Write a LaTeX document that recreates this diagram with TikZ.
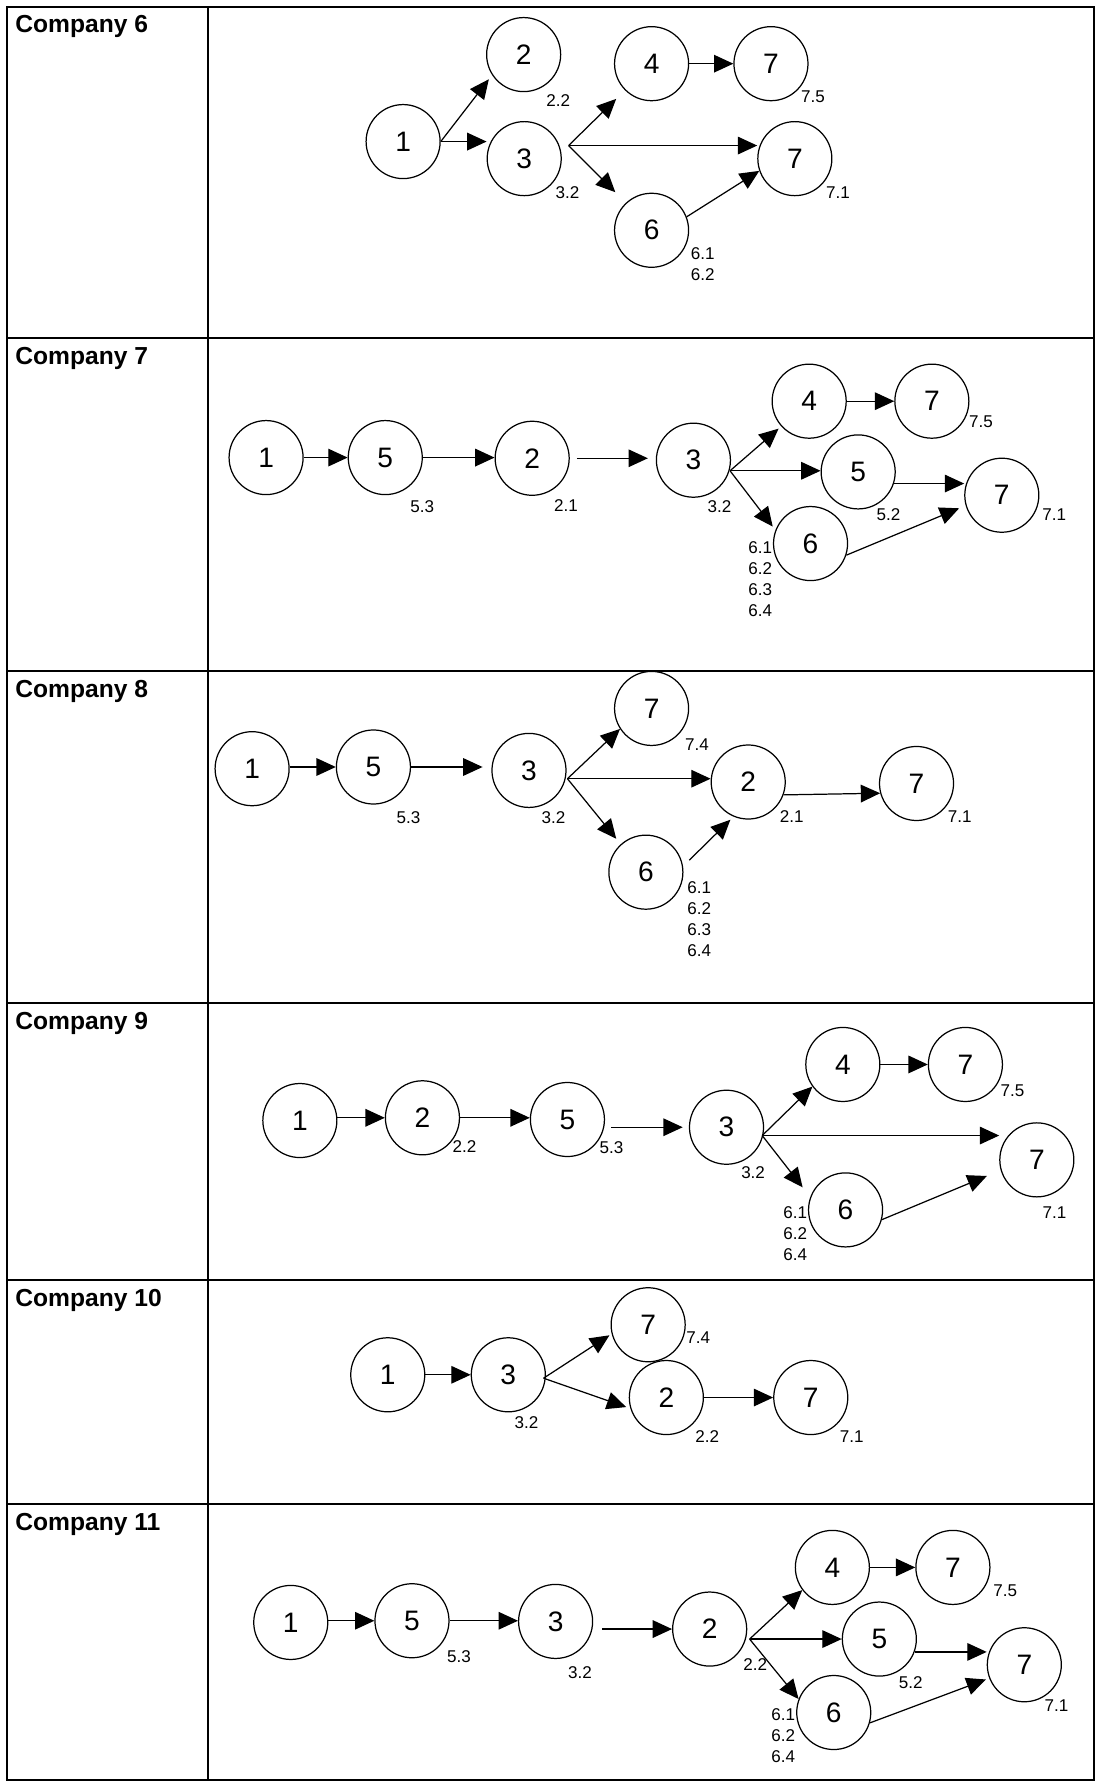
\documentclass[tikz,border=0pt]{standalone}
\usepackage{fontspec}
\setmainfont{Liberation Sans}
\usetikzlibrary{calc}
\usetikzlibrary{arrows.meta}
\tikzset{
  activity/.style = {circle, draw, line width=0.7pt, minimum size=1.48cm, inner sep=0pt, font=\fontsize{16}{18}\selectfont},
  flow/.style = {line width=0.7pt, -{Triangle[length=11pt,width=10pt]}},
  sublabel/.style = {inner sep=0pt, align=left, font=\fontsize{9.7}{12}\selectfont},
  company/.style = {anchor=base west, inner sep=0pt, font=\fontsize{14}{16}\selectfont\bfseries},
  cell/.style = {line width=1.1pt}
}

\begin{document}
\begin{tikzpicture}[x=0.22733mm, y=-0.22733mm]

    \useasboundingbox (0,0) rectangle (966,1568);

    % Table
    \draw[cell] (5.9,5.9) rectangle (962.3,1565);
    \draw[cell] (183.3,5.9) -- (183.3,1565);
    \foreach \y in {297.3,590.3,882.3,1126,1323} {
      \draw[cell] (5.9,\y) -- (962.3,\y);
    }

    % Row titles
    \node[company] (c6) at (13.2,28.2) {Company 6};
    \node[company] (c7) at (13.2,320.2) {Company 7};
    \node[company] (c8) at (13.2,613.2) {Company 8};
    \node[company] (c9) at (13.2,905.2) {Company 9};
    \node[company] (c10) at (13.2,1148.9) {Company 10};
    \node[company] (c11) at (13.2,1345.9) {Company 11};

    % Company 6
    \node[activity] (c6n1) at (354.5,124.5) {1};
    \node[activity] (c6n2) at (460.5,48) {2};
    \node[activity] (c6n3) at (461,139.5) {3};
    \node[activity] (c6n4) at (573,56) {4};
    \node[activity] (c6n7a) at (678,56) {7};
    \node[activity] (c6n7b) at (699,139.5) {7};
    \node[activity] (c6n6) at (573,202.5) {6};
    \coordinate (c6f) at (500,128);
    \draw[flow, shorten >=3pt] (c6n1.east) -- (c6n2.213);
    \draw[flow] (c6n1.east) -- (c6n1.east -| c6n3.west);
    \draw[flow, shorten >=7pt] (c6f) -- (c6n4.225);
    \draw[flow] (c6f) -- (c6f -| c6n7b.west);
    \draw[flow, shorten >=8.5pt] (c6f) -- (c6n6.133);
    \draw[flow] (c6n4) -- (c6n7a);
    \draw[flow] (c6n6.21) -- (c6n7b.199);
    \node[sublabel] (c6l2) at (491,88) {2.2};
    \node[sublabel] (c6l3) at (499,169) {3.2};
    \node[sublabel] (c6l7a) at (715,85) {7.5};
    \node[sublabel] (c6l7b) at (737,169) {7.1};
    \node[sublabel] (c6l6) at (618,232) {6.1\\6.2};

    % Company 7
    \node[activity] (c7n1) at (234,402.4) {1};
    \node[activity] (c7n5a) at (338.8,402.4) {5};
    \node[activity] (c7n2) at (468,403) {2};
    \node[activity] (c7n3) at (609.8,404.7) {3};
    \node[activity] (c7n4) at (711.6,352.8) {4};
    \node[activity] (c7n7a) at (819.5,352.8) {7};
    \node[activity] (c7n5b) at (754.7,415) {5};
    \node[activity] (c7n7b) at (881,435.5) {7};
    \node[activity] (c7n6) at (712.8,478) {6};
    \coordinate (c7f) at (642,414);
    \draw[flow] (c7n1) -- (c7n5a);
    \draw[flow] (c7n5a.east) -- (c7n5a.east -| c7n2.west);
    \draw[flow, shorten <=4pt, shorten >=4.5pt] (c7n2.east) -- (c7n2.east -| c7n3.west);
    \draw[flow, shorten >=2pt] (c7f) -- (c7n4.222);
    \draw[flow] (c7f) -- (c7f -| c7n5b.west);
    \draw[flow, shorten >=2.5pt] (c7f) -- (c7n6.159);
    \draw[flow] (c7n4) -- (c7n7a);
    \draw[flow] (c7n5b.342) -- (c7n5b.342 -| c7n7b.west);
    \draw[flow, shorten >=4pt] (c7n6.342) -- (c7n7b.196);
    \node[sublabel] (c7l5) at (371.4,445.2) {5.3};
    \node[sublabel] (c7l2) at (497.8,444.3) {2.1};
    \node[sublabel] (c7l3) at (632.7,445.8) {3.2};
    \node[sublabel] (c7l7a) at (862.6,371) {7.5};
    \node[sublabel] (c7l5b) at (781.3,453) {5.2};
    \node[sublabel] (c7l7b) at (927.2,453) {7.1};
    \node[sublabel] (c7l6) at (668.5,509.3) {6.1\\6.2\\6.3\\6.4};

    % Company 8
    \node[activity] (c8n1) at (221.7,676) {1};
    \node[activity] (c8n5) at (328.4,674.5) {5};
    \node[activity] (c8n3) at (465.2,677.5) {3};
    \node[activity] (c8n7a) at (573,623) {7};
    \node[activity] (c8n2) at (658,687.7) {2};
    \node[activity] (c8n7b) at (806,689) {7};
    \node[activity] (c8n6) at (568,767) {6};
    \coordinate (c8f) at (499,684.8);
    \draw[flow] (c8n5.west -| c8n1.east) -- (c8n5.west);
    \draw[flow, shorten >=5pt] (c8n5.east) -- (c8n5.east -| c8n3.west);
    \draw[flow] (c8f) -- (c8n7a.213);
    \draw[flow] (c8f) -- (c8f -| c8n2.west);
    \draw[flow, shorten >=4pt] (c8f) -- (c8n6.132);
    \draw[flow] (c8n2.340) -- (c8n7b.195);
    \draw[flow, shorten <=5pt, shorten >=2.5pt] (c8n6.9) -- (c8n2.247);
    \node[sublabel] (c8l5) at (359.2,719.4) {5.3};
    \node[sublabel] (c8l3) at (486.7,719.4) {3.2};
    \node[sublabel] (c8l7a) at (613,654.6) {7.4};
    \node[sublabel] (c8l2) at (696.2,718.5) {2.1};
    \node[sublabel] (c8l7b) at (844,718.5) {7.1};
    \node[sublabel] (c8l6) at (614.9,808.2) {6.1\\6.2\\6.3\\6.4};

    % Company 9
    \node[activity] (c9n1) at (263.7,985.4) {1};
    \node[activity] (c9n2) at (371.5,983) {2};
    \node[activity] (c9n5) at (499,984.5) {5};
    \node[activity] (c9n3) at (638.9,991.3) {3};
    \node[activity] (c9n4) at (741.2,936.1) {4};
    \node[activity] (c9n7a) at (849,936.1) {7};
    \node[activity] (c9n7b) at (911.8,1020) {7};
    \node[activity] (c9n6) at (743.6,1064) {6};
    \coordinate (c9f) at (670.3,998.6);
    \draw[flow] (c9n2.west -| c9n1.east) -- (c9n2.west);
    \draw[flow] (c9n2.east) -- (c9n2.east -| c9n5.west);
    \draw[flow, shorten <=3.5pt, shorten >=3.5pt] (c9n3.west -| c9n5.east) -- (c9n3.west);
    \draw[flow] (c9f) -- (c9n4.216);
    \draw[flow] (c9f) -- (c9f -| c9n7b.west);
    \draw[flow, shorten >=7pt] (c9f) -- (c9n6.160);
    \draw[flow] (c9n4) -- (c9n7a);
    \draw[flow, shorten >=8.5pt] (c9n6.345) -- (c9n7b.196);
    \node[sublabel] (c9l2) at (408.5,1008.3) {2.2};
    \node[sublabel] (c9l5) at (537.8,1008.9) {5.3};
    \node[sublabel] (c9l3) at (662.3,1031.4) {3.2};
    \node[sublabel] (c9l7a) at (890.3,959) {7.5};
    \node[sublabel] (c9l7b) at (927.3,1066.6) {7.1};
    \node[sublabel] (c9l6) at (699.3,1084.6) {6.1\\6.2\\6.4};

    % Company 10
    \node[activity] (c10n1) at (341,1209) {1};
    \node[activity] (c10n3) at (447,1209) {3};
    \node[activity] (c10n7a) at (570,1165) {7};
    \node[activity] (c10n2) at (586,1229) {2};
    \node[activity] (c10n7b) at (713,1229) {7};
    \coordinate (c10f) at (478,1212);
    \draw[flow] (c10n1) -- (c10n3);
    \draw[flow, shorten >=1.5pt] (c10f) -- (c10n7a.194);
    \draw[flow, shorten >=2.5pt] (c10f) -- (c10n2.197);
    \draw[flow] (c10n2) -- (c10n7b);
    \node[sublabel] (c10l3) at (463,1251) {3.2};
    \node[sublabel] (c10l7a) at (614,1176) {7.4};
    \node[sublabel] (c10l2) at (622,1263) {2.2};
    \node[sublabel] (c10l7b) at (749,1263) {7.1};

    % Company 11
    \node[activity] (c11n1) at (255.7,1426.8) {1};
    \node[activity] (c11n5a) at (362.3,1425.3) {5};
    \node[activity] (c11n3) at (488.6,1425.9) {3};
    \node[activity] (c11n2) at (624.1,1432.6) {2};
    \node[activity] (c11n4) at (732,1378.4) {4};
    \node[activity] (c11n7a) at (838,1378.4) {7};
    \node[activity] (c11n5b) at (773.3,1441.4) {5};
    \node[activity] (c11n7b) at (900.8,1464) {7};
    \node[activity] (c11n6) at (733.2,1506) {6};
    \coordinate (c11f) at (659.2,1441.4);
    \draw[flow] (c11n5a.west -| c11n1.east) -- (c11n5a.west);
    \draw[flow] (c11n5a.east) -- (c11n5a.east -| c11n3.west);
    \draw[flow, shorten <=5pt] (c11n2.west -| c11n3.east) -- (c11n2.west);
    \draw[flow] (c11f) -- (c11n4.217);
    \draw[flow] (c11f) -- (c11f -| c11n5b.west);
    \draw[flow] (c11f) -- (c11n6.159);
    \draw[flow] (c11n4) -- (c11n7a);
    \draw[flow] (c11n5b.340) -- (c11n5b.340 -| c11n7b.west);
    \draw[flow, shorten >=2pt] (c11n6.344) -- (c11n7b.201);
    \node[sublabel] (c11l5) at (403.6,1457) {5.3};
    \node[sublabel] (c11l3) at (510.1,1471.3) {3.2};
    \node[sublabel] (c11l2) at (664.2,1463.4) {2.2};
    \node[sublabel] (c11l7a) at (884.1,1399) {7.5};
    \node[sublabel] (c11l5b) at (801,1479.6) {5.2};
    \node[sublabel] (c11l7b) at (929,1500) {7.1};
    \node[sublabel] (c11l6) at (688.8,1526.5) {6.1\\6.2\\6.4};

\end{tikzpicture}
\end{document}
